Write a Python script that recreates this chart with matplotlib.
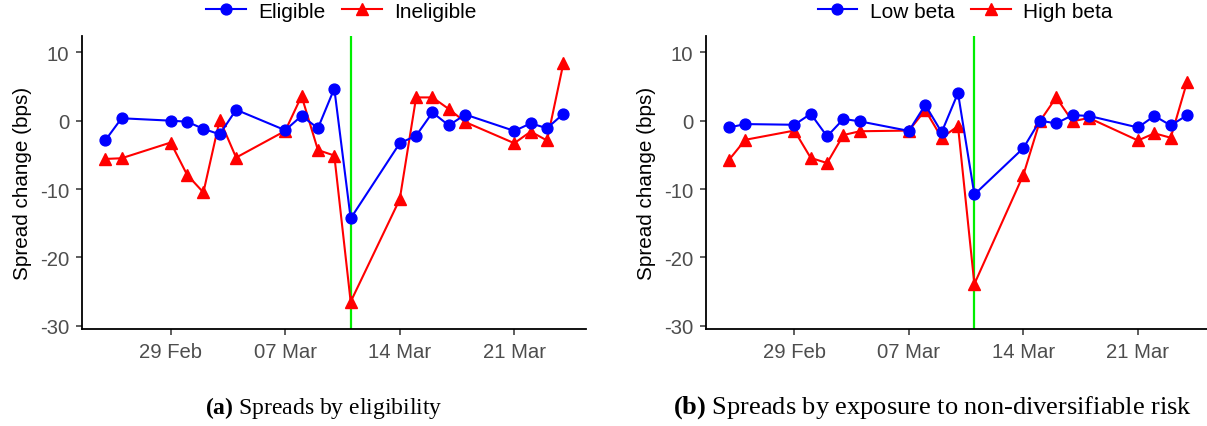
import matplotlib
matplotlib.use("Agg")
import matplotlib.pyplot as plt
import matplotlib.dates as mdates
import pandas as pd
import numpy as np

plt.rcParams['font.family'] = ['Liberation Sans', 'DejaVu Sans']
plt.rcParams['mathtext.fontset'] = 'custom'
plt.rcParams['mathtext.rm'] = 'Liberation Serif'
plt.rcParams['mathtext.bf'] = 'Liberation Serif:bold'

dates = pd.to_datetime([
    "2020-02-25", "2020-02-26", "2020-02-29", "2020-03-01", "2020-03-02",
    "2020-03-03", "2020-03-04", "2020-03-07", "2020-03-08", "2020-03-09",
    "2020-03-10", "2020-03-11", "2020-03-14", "2020-03-15", "2020-03-16",
    "2020-03-17", "2020-03-18", "2020-03-21", "2020-03-22", "2020-03-23",
    "2020-03-24"])

eligible = [-2.9, 0.35, 0.0, -0.15, -1.2, -2.0, 1.6, -1.4, 0.7, -1.1, 4.7,
            -14.3, -3.3, -2.2, 1.2, -0.7, 0.9, -1.5, -0.4, -1.1, 1.0]
ineligible = [-5.6, -5.5, -3.2, -7.9, -10.5, 0.15, -5.4, -1.5, 3.6, -4.3, -5.1,
              -26.5, -11.5, 3.4, 3.4, 1.7, -0.2, -3.3, -1.6, -2.9, 8.4]

low_beta = [-1.0, -0.5, -0.6, 1.0, -2.3, 0.25, -0.1, -1.5, 2.3, -1.7, 4.05,
            -10.8, -4.0, 0.0, -0.4, 0.8, 0.7, -1.0, 0.7, -0.7, 0.8]
high_beta = [-5.75, -2.8, -1.45, -5.45, -6.2, -2.1, -1.55, -1.45, 1.55, -2.5, -0.8,
             -23.9, -7.9, -0.1, 3.4, -0.1, 0.4, -2.9, -1.85, -2.5, 5.7]

event_date = pd.Timestamp("2020-03-11")
tick_dates = pd.to_datetime(["2020-02-29", "2020-03-07", "2020-03-14", "2020-03-21"])
yticks = [10, 0, -10, -20, -30]

panels = [
    (["Eligible", "Ineligible"], eligible, ineligible,
     r"$\mathbf{(a)}$ Spreads by eligibility"),
    (["Low beta", "High beta"], low_beta, high_beta,
     r"$\mathbf{(b)}$ Spreads by exposure to non-diversifiable risk"),
]

W, H = 1207, 427
fig = plt.figure(figsize=(W / 100, H / 100), dpi=100)

ax_left_px = [82.3, 706.0]
ax_w_px = 504.0
ax_top_px, ax_bot_px = 36.7, 330.0
caption_cx_px = [324, 933]
caption_size = [17, 19]

blue = "#0000FF"
red = "#FF0000"
green = "#00EE00"
grey_txt = "#4D4D4D"

span = (dates.max() - dates.min())
pad = span * 0.05

for i, (labels, s1, s2, caption) in enumerate(panels):
    ax = fig.add_axes([ax_left_px[i] / W, 1 - ax_bot_px / H,
                       ax_w_px / W, (ax_bot_px - ax_top_px) / H])
    ax.axvline(event_date, color=green, lw=1.6, zorder=1)
    ax.plot(dates, s1, color=blue, lw=1.5, marker='o', ms=7.8,
            label=labels[0], zorder=3)
    ax.plot(dates, s2, color=red, lw=1.5, marker='^', ms=8.5,
            label=labels[1], zorder=2)
    ax.set_xlim(dates.min() - pad, dates.max() + pad)
    ax.set_ylim(-30.48, 12.43)
    ax.set_yticks(yticks)
    ax.set_yticklabels([str(v) for v in yticks])
    ax.set_xticks(tick_dates)
    ax.xaxis.set_major_formatter(mdates.DateFormatter('%d %b'))
    for sp in ['top', 'right']:
        ax.spines[sp].set_visible(False)
    for sp in ['left', 'bottom']:
        ax.spines[sp].set_linewidth(1.3)
    ax.tick_params(axis='both', length=4.3, width=1.1, color='#333333',
                   labelcolor=grey_txt, labelsize=14.6)
    ax.tick_params(axis='x', pad=5)
    ax.tick_params(axis='y', pad=5)
    ax.set_ylabel("Spread change (bps)", fontsize=14.9, color='black')
    ax.yaxis.set_label_coords(-0.0998, 0.5)
    cx = (ax_left_px[i] + ax_w_px / 2) / W
    leg = ax.legend(loc='center', bbox_to_anchor=(cx + 0.006, (H - 12) / H),
                    bbox_transform=fig.transFigure, ncol=2, frameon=False,
                    fontsize=15, handlelength=1.9, handletextpad=0.6,
                    columnspacing=0.8, borderaxespad=0)
    fig.text(caption_cx_px[i] / W, 1 - 408 / H, caption,
             ha='center', va='center', fontsize=caption_size[i],
             family=['Liberation Serif'])

fig.savefig("out.png", dpi=100)
